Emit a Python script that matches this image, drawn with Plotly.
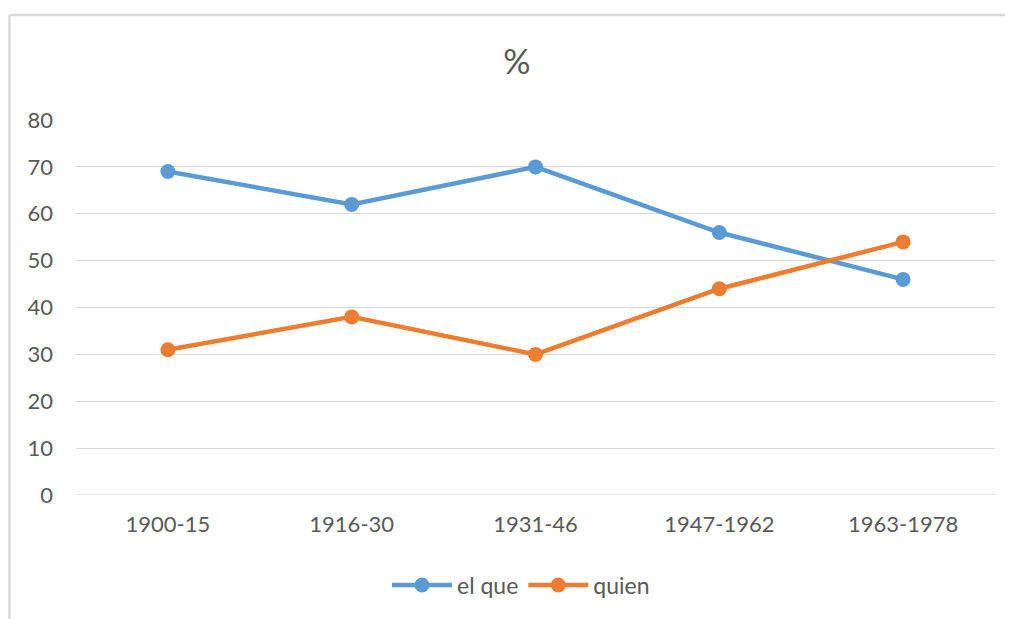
import plotly.graph_objects as go

categories = ["1900-15", "1916-30", "1931-46", "1947-1962", "1963-1978"]
el_que = [69, 62, 70, 56, 46]
quien = [31, 38, 30, 44, 54]
y_ticks = [0, 10, 20, 30, 40, 50, 60, 70, 80]

FONT = "Lato"
GREY = "#595959"
OFF = 8  # page body margin offset

fig = go.Figure()
fig.add_trace(go.Scatter(x=categories, y=el_que, name="el que", mode="lines+markers",
                         line=dict(color="#5B9BD5", width=4.5),
                         marker=dict(size=15, color="#5B9BD5")))
fig.add_trace(go.Scatter(x=categories, y=quien, name="quien", mode="lines+markers",
                         line=dict(color="#ED7D31", width=4.5),
                         marker=dict(size=15, color="#ED7D31")))

W, H = 1013, 619
# target pixel positions in the screenshot
PL, PR, PT, PB = 76, 995, 120, 495
L = PL - OFF
T = PT - OFF
R = W - (PR - OFF)
B = H - (PB - OFF)
pw, ph = W - L - R, H - T - B

def px_x(px):
    return (px - OFF - L) / pw

def px_y(py):
    return (H - B - (py - OFF)) / ph

fig.update_layout(
    width=W, height=H,
    margin=dict(l=L, r=R, t=T, b=B),
    paper_bgcolor="white", plot_bgcolor="white",
    font=dict(family=FONT, color=GREY, size=22),
    title=dict(text="%", xref="container", x=(517 - OFF) / W, xanchor="center",
               y=1 - (62 - OFF) / H, yanchor="middle",
               font=dict(family=FONT, size=34, color=GREY)),
    xaxis=dict(type="category", range=[-0.5, 4.5], showgrid=False, showline=False,
               zeroline=False, ticks="", ticklabelstandoff=14,
               tickfont=dict(size=22, color=GREY, family=FONT)),
    yaxis=dict(range=[0, 80], tickvals=y_ticks, showgrid=True, gridcolor="#D9D9D9",
               gridwidth=1.3, zeroline=False, showline=False, ticks="",
               ticklabelstandoff=22, tickfont=dict(size=22, color=GREY, family=FONT)),
    legend=dict(orientation="h", x=px_x(521), xanchor="center", y=px_y(585), yanchor="middle",
                font=dict(size=23, color=GREY, family=FONT), itemwidth=60,
                bgcolor="rgba(0,0,0,0)"),
    showlegend=True,
)

# x-axis baseline (same colour as grid)
fig.add_shape(type="line", xref="paper", yref="y", x0=0, x1=1, y0=0, y1=0,
              line=dict(color="#D9D9D9", width=1.3), layer="below")
# chart area border (left and top edges visible in the reference crop)
fig.add_shape(type="line", xref="paper", yref="paper", x0=px_x(9.5), x1=px_x(9.5),
              y0=px_y(640), y1=px_y(15), line=dict(color="#D9D9D9", width=2.5))
fig.add_shape(type="line", xref="paper", yref="paper", x0=px_x(9.5), x1=px_x(1030),
              y0=px_y(15), y1=px_y(15), line=dict(color="#D9D9D9", width=2.5))

fig.write_html("out.html")
